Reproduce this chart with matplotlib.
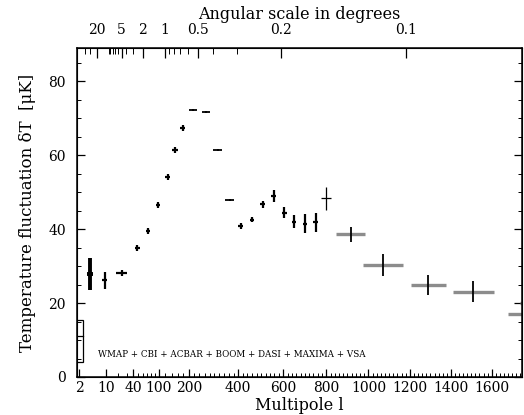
import numpy as np
import matplotlib.pyplot as plt
from matplotlib.patches import Rectangle

plt.rcParams['font.family'] = ['DejaVu Serif']

# band powers: multipole, dT [uK], errors
ell = [4, 9.5, 24, 48, 71, 98, 128, 151, 178, 214, 266, 314, 363,
       410, 460, 508, 557, 605, 650, 700, 750, 798]
dT = [27.8, 26.2, 28.1, 35.0, 39.5, 46.5, 54.0, 61.4, 67.4, 72.3, 71.7, 61.5, 47.8,
      40.8, 42.6, 46.7, 48.9, 44.4, 42.0, 41.5, 41.8, 48.3]
dT_err = [4.3, 2.3, 0.8, 0.8, 0.8, 0.8, 0.8, 0.8, 0.8, 0.3, 0.3, 0.3, 0.3,
          0.8, 0.8, 0.9, 1.6, 1.5, 1.7, 2.5, 2.6, 3.1]
ell_err = [0.7, 1.2, 6, 5, 5, 7, 8, 9, 9, 15, 16, 18, 18,
           11, 11, 11, 11, 11, 11, 11, 11, 23]

# wide high-l bins
ell_hi = [915, 1070, 1290, 1510, 1780, 1810]
dT_hi = [38.6, 30.3, 24.9, 23.1, 17.0, 20.1]
dT_hi_err = [2.1, 3.1, 2.8, 2.9, 3.0, 3.0]
ell_hi_err = [70, 95, 85, 100, 100, 70]

# COBE-like box at the lowest multipoles
box_ell = [1.6, 2.6]
box_dT = [4.0, 15.5]
box_mid = 11.0

l_ticks = [2, 10, 40, 100, 200, 400, 600, 800, 1000, 1200, 1400, 1600]
ang_ticks = [20, 5, 2, 1, 0.5, 0.2, 0.1]
ang_minor = [40, 30, 10, 9, 8, 7, 6, 4, 3, 0.9, 0.8, 0.7, 0.6, 0.4, 0.3]
ang_const = 118.0  # l ~ 118 / theta[deg]

# hybrid axis: log-like at low l, linear at high l
A, B = 15.5, 0.193
def fwd(l):
    l = np.clip(np.asarray(l, float), 1e-3, None)
    return A * np.log(l / 2) + B * (l - 2)

_grid = np.geomspace(1e-3, 1e5, 6000)
def inv(x):
    return np.interp(x, fwd(_grid), _grid)

fig = plt.figure(figsize=(5.24, 4.15), dpi=100)
ax = fig.add_axes([77/524, 1 - 377/415, 445/524, 329/415])
ax.set_xscale('function', functions=(fwd, inv))
ax.set_xlim(1.75, 1750)
ax.set_ylim(0, 89)

ax.errorbar(ell[:1], dT[:1], yerr=dT_err[:1], xerr=ell_err[:1], fmt='none',
            ecolor='k', elinewidth=2.8, capsize=0)
ax.errorbar(ell[1:9], dT[1:9], yerr=dT_err[1:9], xerr=ell_err[1:9], fmt='none',
            ecolor='k', elinewidth=1.6, capsize=0)
ax.errorbar(ell[9:13], dT[9:13], yerr=dT_err[9:13], xerr=ell_err[9:13], fmt='none',
            ecolor='k', elinewidth=1.3, capsize=0)
ax.errorbar(ell[13:-1], dT[13:-1], yerr=dT_err[13:-1], xerr=ell_err[13:-1], fmt='none',
            ecolor='k', elinewidth=1.6, capsize=0)
ax.errorbar(ell[-1:], dT[-1:], yerr=dT_err[-1:], xerr=ell_err[-1:], fmt='none',
            ecolor='k', elinewidth=0.9, capsize=0)
ax.errorbar(ell_hi, dT_hi, xerr=ell_hi_err, fmt='none', ecolor='0.55',
            elinewidth=2.4, capsize=0)
ax.errorbar(ell_hi, dT_hi, yerr=dT_hi_err, fmt='none', ecolor='k',
            elinewidth=1.3, capsize=0)

ax.add_patch(Rectangle((box_ell[0], box_dT[0]), box_ell[1] - box_ell[0],
                       box_dT[1] - box_dT[0], fill=False, ec='k', lw=0.9))
ax.plot(box_ell, [box_mid, box_mid], color='k', lw=0.9)

ax.text(0.348, 0.067, 'WMAP + CBI + ACBAR + BOOM + DASI + MAXIMA + VSA',
        transform=ax.transAxes, ha='center', va='center', fontsize=6.3)

ax.set_xticks(l_ticks)
ax.set_xticklabels([str(v) for v in l_ticks])
ax.set_xticks(list(range(20, 100, 10)) + list(range(100, 1750, 20)), minor=True)
ax.set_yticks([0, 20, 40, 60, 80])
ax.set_yticks(np.arange(0, 90, 5), minor=True)
ax.tick_params(which='both', direction='in', top=False, right=True, labelsize=10)
ax.tick_params(which='major', length=6, width=0.9)
ax.tick_params(which='minor', length=3, width=0.7)
ax.tick_params(axis='x', pad=3)
ax.tick_params(axis='y', pad=8)
for s in ax.spines.values():
    s.set_linewidth(1.1)

ax.set_xlabel('Multipole l', fontsize=11.5, labelpad=1)
ax.set_ylabel('Temperature fluctuation δT  [μK]', fontsize=12, labelpad=9)

ax2 = ax.twiny()
ax2.set_xscale('function', functions=(fwd, inv))
ax2.set_xlim(ax.get_xlim())
ax2.set_xticks([ang_const / a for a in ang_ticks])
ax2.set_xticklabels([f'{a:g}' for a in ang_ticks])
ax2.set_xticks([ang_const / a for a in ang_minor], minor=True)
ax2.tick_params(which='both', direction='in', labelsize=10, pad=8)
ax2.tick_params(which='major', length=7, width=0.9)
ax2.tick_params(which='minor', length=4, width=0.7)
ax2.set_xlabel('Angular scale in degrees', fontsize=11.5, labelpad=3)

fig.savefig('out.png', dpi=100)
